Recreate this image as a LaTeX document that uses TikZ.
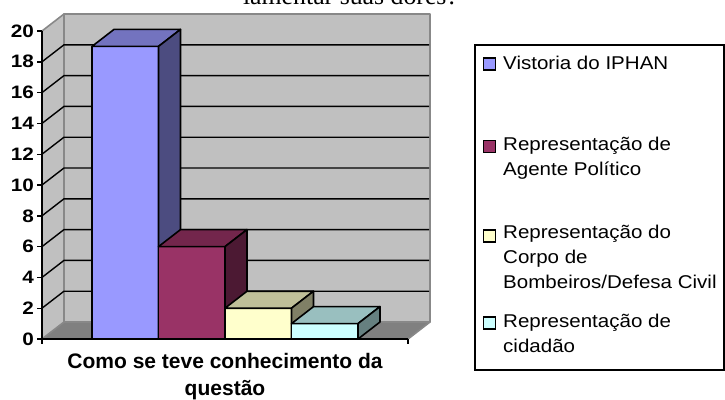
\documentclass[tikz,border=0pt]{standalone}
\usepackage{fontspec}
\setmainfont{Liberation Sans}
\newfontfamily\titlefont{Liberation Serif}
\newfontfamily\widefont[FakeStretch=1.11]{Liberation Sans}
\newfontfamily\tickfont[FakeStretch=1.15]{Liberation Sans}
\definecolor{barblue}{HTML}{9999FF}
\definecolor{barwine}{HTML}{993366}
\definecolor{barcream}{HTML}{FFFFCC}
\definecolor{baraqua}{HTML}{CCFFFF}
\definecolor{wallgrey}{HTML}{C0C0C0}
\definecolor{floorgrey}{HTML}{808080}
\definecolor{edgegrey}{HTML}{888888}
\begin{document}
\begin{tikzpicture}[x=1pt,y=-1pt,
  wall/.style = {draw=edgegrey, line width=1.6pt, line join=round},
  grid/.style = {black, line width=1.4pt},
  bar/.style = {draw=black, line width=1.6pt, line join=round},
  tick/.style = {font=\tickfont\fontsize{18}{18}\bfseries, anchor=east, inner sep=0pt},
  key/.style = {draw=black, line width=1.4pt, minimum size=12pt, inner sep=0pt},
  entry/.style = {font=\widefont\fontsize{18.5}{24.9}\selectfont, align=left, anchor=base west, inner sep=0pt}]
  \useasboundingbox (0,0) rectangle (725,399);
  % title, cut by the top of the page
  \node[font=\titlefont\fontsize{25.8}{26}\selectfont, anchor=base, inner sep=0pt] (title) at (350.5,4.5) {lamentar suas dores?};
  % walls and floor
  \draw[wall, fill=floorgrey] (42,339) -- (64,322) -- (430,322) -- (408,339) -- cycle;
  \draw[wall, fill=wallgrey] (64,14) rectangle (430,322);
  \draw[wall, fill=wallgrey] (42,31) -- (64,14) -- (64,322) -- (42,339) -- cycle;
  \foreach \k in {2,4,...,18} {
    \pgfmathsetmacro\yf{339-15.4*\k}
    \pgfmathsetmacro\yb{322-15.4*\k}
    \draw[grid] (42,\yf) -- (64,\yb) -- (429,\yb);
  }
  % bars
  \foreach \x/\v/\col in {92/19/barblue, 158.5/6/barwine, 225/2/barcream, 291.5/1/baraqua} {
    \pgfmathsetmacro\yt{339-15.4*\v}
    \pgfmathsetmacro\xr{\x+66.5}
    \pgfmathsetmacro\xb{\xr+22}
    \draw[bar, fill=\col] (\x,339) rectangle (\xr,\yt);
    \draw[bar, fill=\col!75!black] (\x,\yt) -- ++(22,-17) -- ++(66.5,0) -- (\xr,\yt) -- cycle;
    \draw[bar, fill=\col!50!black] (\xr,339) -- (\xr,\yt) -- ++(22,-17) -- (\xb,322) -- cycle;
  }
  % axes
  \draw[grid] (42,31) -- (42,339) -- (408,339);
  \draw[grid] (42,339) -- (42,344);
  \draw[grid] (408,339) -- (408,344);
  \foreach \k in {0,2,...,20} {
    \pgfmathsetmacro\yf{339-15.4*\k}
    \draw[grid] (37,\yf) -- (42,\yf);
    \node[tick] (t\k) at (34,\yf) {\k};
  }
  \node[font=\fontsize{21}{27}\bfseries, align=center, anchor=base, inner sep=0pt] (cat) at (225,395.5) {Como se teve conhecimento da\\questão};
  % legend
  \draw[line width=1.4pt] (475,45) rectangle (724,370);
  \node[key, fill=barblue] (k1) at (489.5,64) {};
  \node[key, fill=barwine] (k2) at (489.5,146.5) {};
  \node[key, fill=barcream] (k3) at (489.5,236) {};
  \node[key, fill=baraqua] (k4) at (489.5,323) {};
  \node[entry] (e1) at (503,69.3) {Vistoria do IPHAN};
  \node[entry] (e2) at (503,175.7) {Representação de\\Agente Político};
  \node[entry] (e3) at (503,288.7) {Representação do\\Corpo de\\Bombeiros/Defesa Civil};
  \node[entry] (e4) at (503,352.7) {Representação de\\cidadão};
\end{tikzpicture}
\end{document}
